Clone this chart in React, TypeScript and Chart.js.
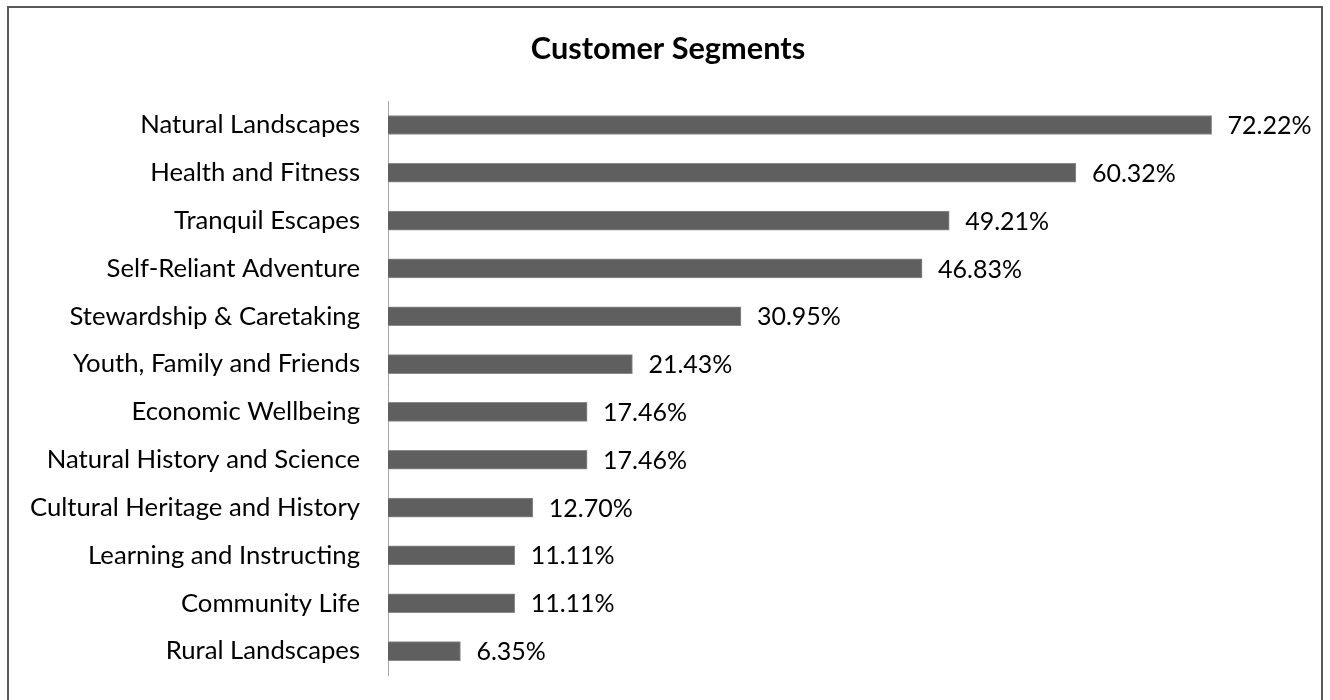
import React, { useEffect, useRef } from "react";
import { Chart, registerables } from "chart.js";

Chart.register(...registerables);

const categories = [
  "Natural Landscapes",
  "Health and Fitness",
  "Tranquil Escapes",
  "Self-Reliant Adventure",
  "Stewardship & Caretaking",
  "Youth, Family and Friends",
  "Economic Wellbeing",
  "Natural History and Science",
  "Cultural Heritage and History",
  "Learning and Instructing",
  "Community Life",
  "Rural Landscapes",
];

const shares = [72.22, 60.32, 49.21, 46.83, 30.95, 21.43, 17.46, 17.46, 12.7, 11.11, 11.11, 6.35];

const chartTitle = "Customer Segments";
const FONT = "Lato, 'Open Sans', sans-serif";

const frameAndLabels = {
  id: "frameAndLabels",
  beforeDraw(chart: any) {
    const ctx = chart.ctx;
    ctx.save();
    ctx.fillStyle = "#ffffff";
    ctx.fillRect(0, 0, chart.width, chart.height);
    ctx.strokeStyle = "#595959";
    ctx.lineWidth = 2;
    ctx.strokeRect(8, 7, 1314, 720);
    ctx.restore();
  },
  afterDatasetsDraw(chart: any) {
    const ctx = chart.ctx;
    const meta = chart.getDatasetMeta(0);
    ctx.save();
    ctx.font = `25px ${FONT}`;
    ctx.fillStyle = "#000000";
    ctx.textAlign = "left";
    ctx.textBaseline = "middle";
    meta.data.forEach((bar: any, i: number) => {
      const v = shares[i];
      ctx.fillText(v.toFixed(2) + "%", bar.x + 16, bar.y + 1);
    });
    ctx.restore();
  },
};

export default function App() {
  const ref = useRef<HTMLCanvasElement | null>(null);
  useEffect(() => {
    if (!ref.current) return;
    const chart = new Chart(ref.current, {
      type: "bar",
      data: {
        labels: categories,
        datasets: [
          {
            data: shares,
            backgroundColor: "#5f5f5f",
            borderColor: "#8a8a8a",
            borderWidth: 1,
            barThickness: 19,
          },
        ],
      },
      options: {
        indexAxis: "y",
        animation: false,
        responsive: true,
        maintainAspectRatio: false,
        layout: { padding: { top: 0, bottom: 25, left: 6, right: 0 } },
        plugins: {
          legend: { display: false },
          tooltip: { enabled: false },
          title: {
            display: true,
            text: chartTitle,
            color: "#000000",
            font: { family: FONT, size: 30.7, weight: "bold", lineHeight: 1.2 },
            padding: { top: 30.5, bottom: 33.7 },
          },
        },
        scales: {
          x: { display: false, min: 0, max: 82.6 },
          y: {
            afterFit(scale: any) {
              scale.width = 382;
              scale.paddingTop = 0;
              scale.paddingBottom = 0;
            },
            grid: { display: false, drawTicks: false },
            border: { display: true, color: "#a6a6a6", width: 1 },
            ticks: {
              color: "#000000",
              padding: 28,
              font: { family: FONT, size: 25.7 },
            },
          },
        },
      },
      plugins: [frameAndLabels],
    });
    return () => chart.destroy();
  }, []);
  return (
    <div style={{ position: "absolute", left: 0, top: 0, width: 1330, height: 700 }}>
      <canvas ref={ref} />
    </div>
  );
}
